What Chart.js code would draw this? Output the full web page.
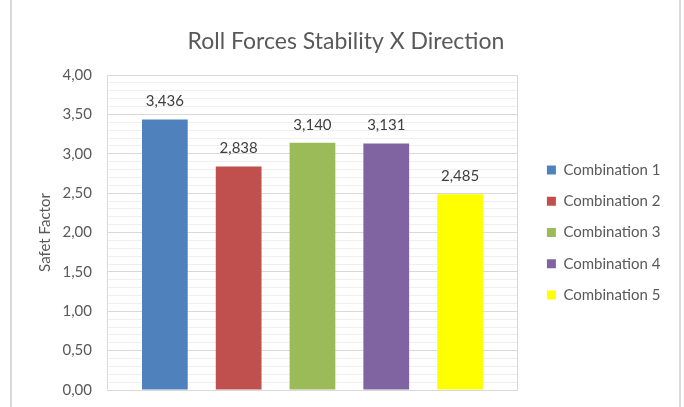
<!DOCTYPE html>
<html>
<head>
<meta charset="utf-8">
<script src="https://cdn.jsdelivr.net/npm/chart.js@4"></script>
<style>
    body { margin: 0; background: #ffffff; }
    #wrap { position: relative; width: 684px; height: 407px; }
    .frame { position: absolute; top: 0; bottom: 0; width: 2px; background: #d9d9d9; }
</style>
</head>
<body>
<div id="wrap">
    <canvas id="chart"></canvas>
    <div class="frame" style="left:10px"></div>
    <div class="frame" style="left:679px"></div>
</div>
<script>
const chartTitle = "Roll Forces Stability X Direction"
const axisTitle = "Safet Factor"
const seriesNames = ["Combination 1", "Combination 2", "Combination 3", "Combination 4", "Combination 5"]
const seriesValues = [3.436, 2.838, 3.140, 3.131, 2.485]
const seriesColors = ["#4f81bd", "#c0504d", "#9bbb59", "#8064a2", "#ffff00"]
const yMin = 0
const yMax = 4
const yMinorStep = 0.1

const fontFamily = "Lato, 'Open Sans', sans-serif"
const textGrey = "#595959"

const isMajor = v => Math.abs(v * 2 - Math.round(v * 2)) < 1e-6
const comma = (v, d) => v.toFixed(d).replace(".", ",")

// value labels above each bar
const valueLabels = {
    id: "valueLabels",
    afterDatasetsDraw(chart) {
        const ctx = chart.ctx
        ctx.save()
        ctx.font = "15px " + fontFamily
        ctx.fillStyle = "#404040"
        ctx.textAlign = "center"
        ctx.textBaseline = "middle"
        chart.data.datasets.forEach((ds, i) => {
            const bar = chart.getDatasetMeta(i).data[0]
            ctx.fillText(comma(ds.data[0], 3), bar.x, bar.y - 18)
        })
        ctx.restore()
    }
}

new Chart(document.getElementById("chart"), {
    type: "bar",
    data: {
        labels: [""],
        datasets: seriesNames.map((name, i) => ({
            label: name,
            data: [seriesValues[i]],
            backgroundColor: seriesColors[i],
            borderWidth: 0,
            categoryPercentage: 0.898,
            barPercentage: 0.62
        }))
    },
    options: {
        responsive: true,
        maintainAspectRatio: false,
        animation: false,
        layout: { padding: { top: 0, left: 21.5, right: 13.5, bottom: 17 } },
        plugins: {
            tooltip: { enabled: false },
            title: {
                display: true,
                text: chartTitle,
                color: textGrey,
                font: { family: fontFamily, size: 23, weight: "normal" },
                padding: { top: 28, bottom: 19.4 }
            },
            legend: {
                position: "right",
                fullSize: false,
                maxWidth: 220,
                labels: {
                    color: textGrey,
                    font: { family: fontFamily, size: 15 },
                    boxWidth: 9,
                    boxHeight: 9,
                    padding: 16.25
                }
            }
        },
        scales: {
            x: { display: false },
            y: {
                min: yMin,
                max: yMax,
                afterFit: scale => {
                    // fixed axis width, and no extra room above/below the plot for the end labels
                    scale.width = 85.5
                    scale.paddingTop = 0
                    scale.paddingBottom = 0
                },
                ticks: {
                    stepSize: yMinorStep,
                    autoSkip: false,
                    padding: 15,
                    color: textGrey,
                    font: { family: fontFamily, size: 15 },
                    callback: v => isMajor(v) ? comma(v, 2) : ""
                },
                grid: {
                    drawTicks: false,
                    color: c => isMajor(c.tick.value) ? "#d9d9d9" : "#efefef"
                },
                border: { color: "#d9d9d9" },
                title: {
                    display: true,
                    text: axisTitle,
                    color: textGrey,
                    font: { family: fontFamily, size: 15 },
                    padding: { top: 14.5 }
                }
            },
            y2: {
                position: "right",
                afterFit: scale => { scale.width = 12.75 },
                ticks: { display: false },
                grid: { display: false, drawTicks: false },
                border: { display: true, color: "#d9d9d9" }
            }
        }
    },
    plugins: [valueLabels]
})
</script>
</body>
</html>
